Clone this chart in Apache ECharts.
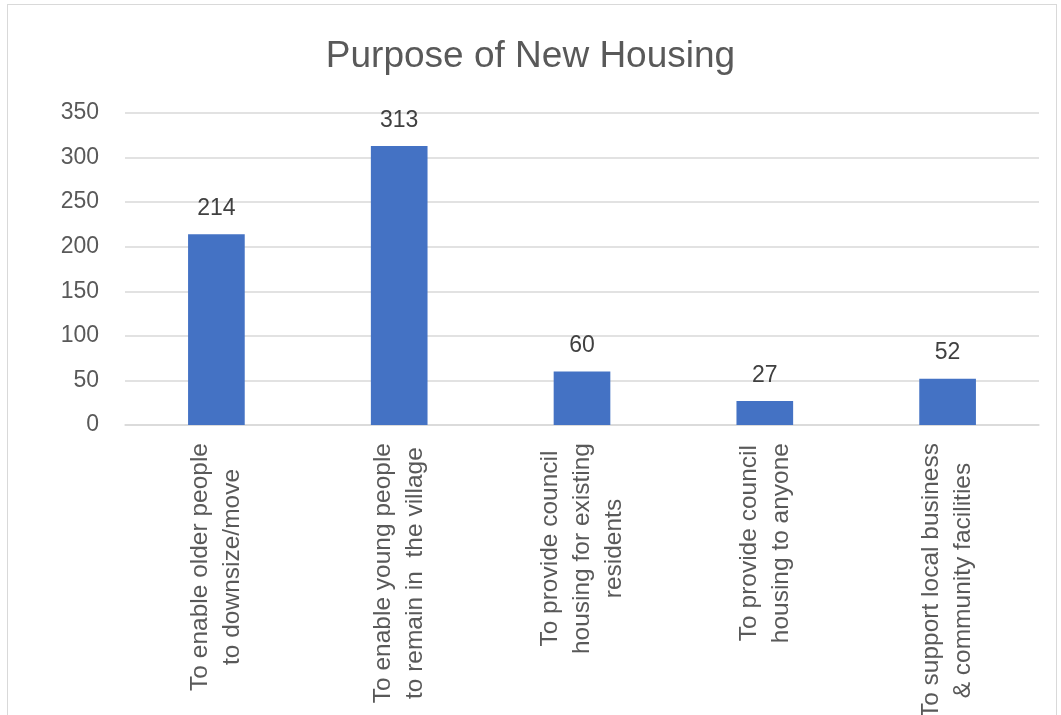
<!DOCTYPE html>
<html lang="en">
<head>
    <meta charset="UTF-8">
    <title>Purpose of New Housing</title>
    <script src="https://cdn.jsdelivr.net/npm/echarts@6/dist/echarts.min.js"></script>
    <style>
        html, body { margin: 0; padding: 0; background: #ffffff; }
        #frame { position: absolute; left: 7px; top: 4px; width: 1048px; height: 720px;
                 border: 1px solid #d9d9d9; border-bottom: none; }
        #main { position: absolute; left: 0; top: 0; width: 1061px; height: 715px; }
    </style>
</head>
<body>
<div id="frame"></div>
<div id="main"></div>

<script type="text/javascript">
    // categories (line breaks as in the original chart)
    var categories = [
        'To enable older people\nto downsize/move',
        'To enable young people\nto remain in  the village',
        'To provide council\nhousing for existing\nresidents',
        'To provide council\nhousing to anyone',
        'To support local business\n& community facilities'
    ]
    var counts = [214, 313, 60, 27, 52]
    var yTicks = [0, 350, 50]   // min, max, interval

    var textColor = '#595959'
    var fontFamily = '"Liberation Sans", Arial, sans-serif'

    var myChart = echarts.init(document.getElementById('main'))

    var option = {
        animation: false,
        title: {
            text: 'Purpose of New Housing',
            left: 'center',
            top: 33,
            textStyle: { color: textColor, fontSize: 37, fontWeight: 'normal', fontFamily: fontFamily }
        },
        grid: { left: 125, right: 22, top: 113, bottom: 290, containLabel: false, outerBoundsMode: 'none' },
        xAxis: {
            type: 'category',
            data: categories,
            axisTick: { show: false },
            axisLine: { lineStyle: { color: '#d9d9d9', width: 1.5 } },
            axisLabel: {
                rotate: 90,
                interval: 0,
                margin: 18,
                color: textColor,
                fontSize: 24.5,
                fontFamily: fontFamily,
                lineHeight: 32,
                formatter: function (v) {
                    return v.split('\n').map(function (s) { return '{c|' + s + '}' }).join('\n')
                },
                rich: {
                    c: { align: 'center', color: textColor, fontSize: 24.5, fontFamily: fontFamily, lineHeight: 32 }
                }
            }
        },
        yAxis: {
            type: 'value',
            min: yTicks[0],
            max: yTicks[1],
            interval: yTicks[2],
            axisLine: { show: false },
            axisTick: { show: false },
            splitLine: { lineStyle: { color: '#d9d9d9', width: 1.5 } },
            axisLabel: { color: textColor, fontSize: 23, fontFamily: fontFamily, margin: 26 }
        },
        series: [{
            name: 'Purpose',
            type: 'bar',
            data: counts,
            barWidth: '31%',
            itemStyle: { color: '#4472c4' },
            label: {
                show: true,
                position: 'top',
                distance: 14,
                color: '#404040',
                fontSize: 23,
                fontFamily: fontFamily
            }
        }]
    }

    myChart.setOption(option)
</script>
</body>
</html>
